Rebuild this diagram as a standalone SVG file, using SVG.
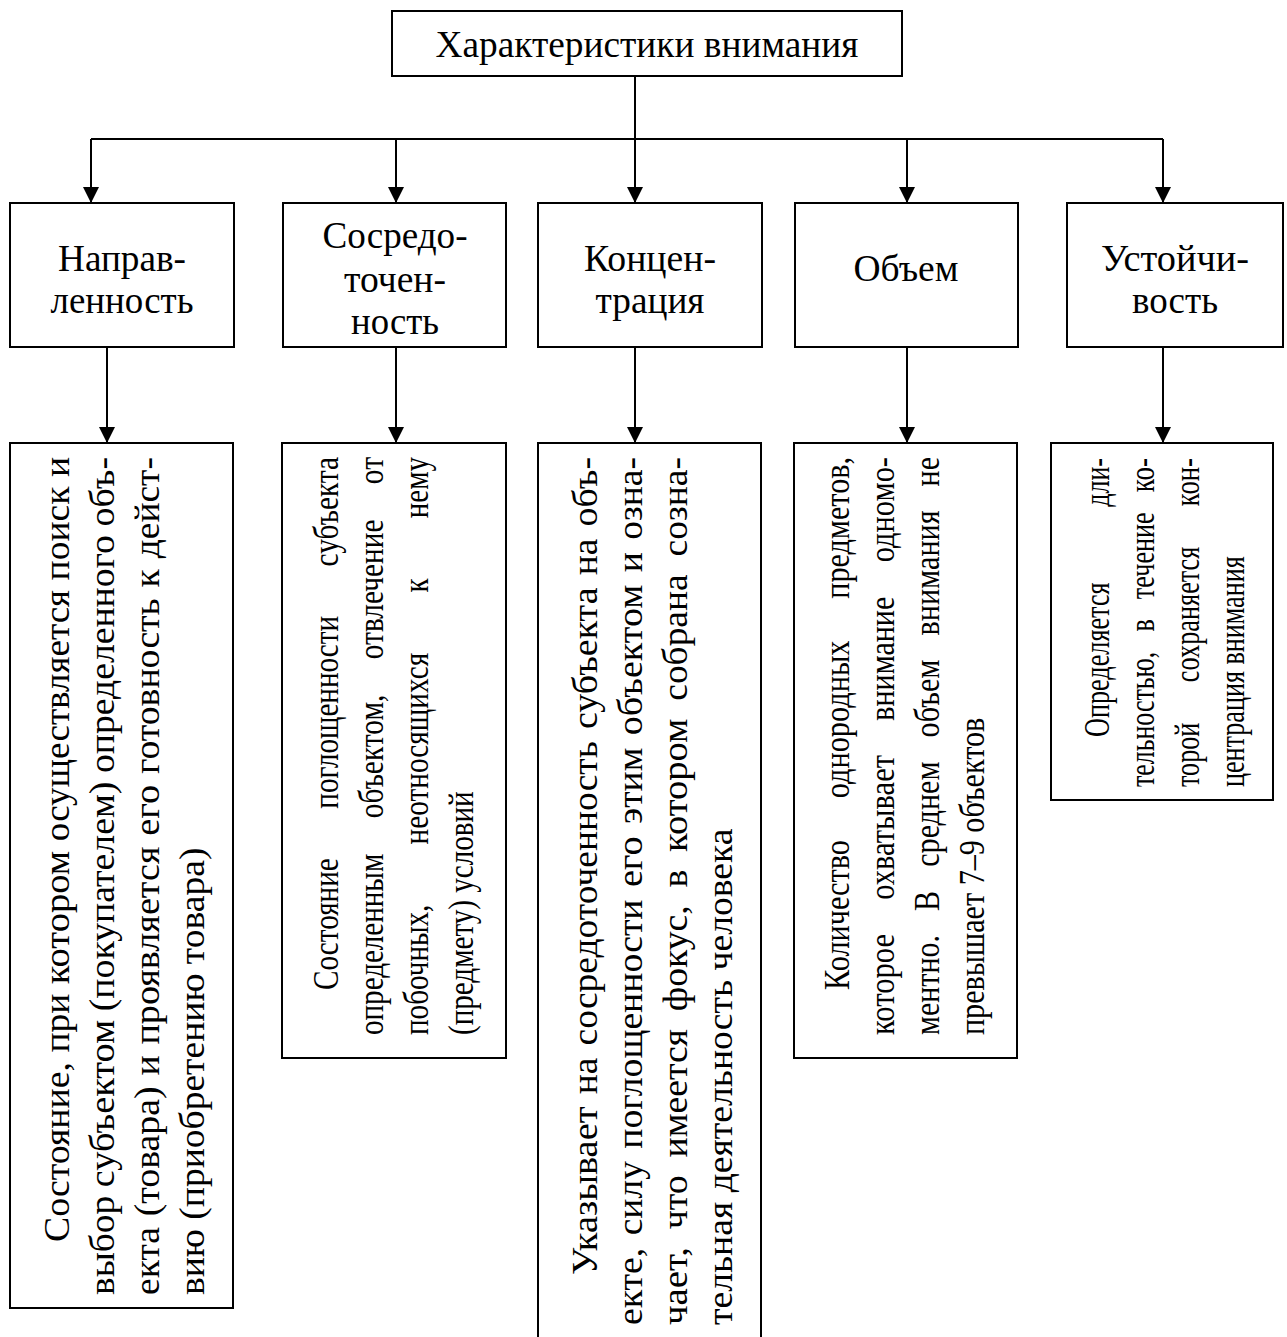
<svg xmlns="http://www.w3.org/2000/svg" width="1287" height="1337" viewBox="0 0 1287 1337">
<style>
.box{fill:#fff;stroke:#000;stroke-width:2}
.ln{fill:none;stroke:#000;stroke-width:2}
text{font-family:"Liberation Serif","DejaVu Serif",serif;fill:#000}
.h{font-size:37px;text-anchor:middle}
.r{font-size:36px}
</style>
<defs>
<marker id="ah" markerUnits="userSpaceOnUse" markerWidth="16" markerHeight="16" refX="16" refY="8" orient="auto">
<path d="M0,0 L16,8 L0,16 z" fill="#000"/>
</marker>
</defs>
<rect width="1287" height="1337" fill="#fff"/>
<g id="connectors">
<path class="ln" d="M91,139 H1163"/>
<path class="ln" d="M635,76 V203" marker-end="url(#ah)"/>
<path class="ln" d="M91,139 V203" marker-end="url(#ah)"/>
<path class="ln" d="M396,139 V203" marker-end="url(#ah)"/>
<path class="ln" d="M907,139 V203" marker-end="url(#ah)"/>
<path class="ln" d="M1163,139 V203" marker-end="url(#ah)"/>
<path class="ln" d="M107,347 V443" marker-end="url(#ah)"/>
<path class="ln" d="M396,347 V443" marker-end="url(#ah)"/>
<path class="ln" d="M635,347 V443" marker-end="url(#ah)"/>
<path class="ln" d="M907,347 V443" marker-end="url(#ah)"/>
<path class="ln" d="M1163,347 V443" marker-end="url(#ah)"/>
</g>
<g id="root">
<rect class="box" x="392" y="11" width="510" height="65"/>
<text class="h" x="647" y="57" textLength="423" lengthAdjust="spacingAndGlyphs">Характеристики внимания</text>
</g>
<g id="n1">
<rect class="box" x="10" y="203" width="224" height="144"/>
<text class="h" x="122" y="271" textLength="128" lengthAdjust="spacingAndGlyphs">Направ-</text>
<text class="h" x="122" y="313" textLength="143" lengthAdjust="spacingAndGlyphs">ленность</text>
</g>
<g id="n2">
<rect class="box" x="283" y="203" width="223" height="144"/>
<text class="h" x="395" y="248" textLength="145" lengthAdjust="spacingAndGlyphs">Сосредо-</text>
<text class="h" x="395" y="292" textLength="102" lengthAdjust="spacingAndGlyphs">точен-</text>
<text class="h" x="395" y="334" textLength="88" lengthAdjust="spacingAndGlyphs">ность</text>
</g>
<g id="n3">
<rect class="box" x="538" y="203" width="224" height="144"/>
<text class="h" x="650" y="271" textLength="132" lengthAdjust="spacingAndGlyphs">Концен-</text>
<text class="h" x="650" y="313" textLength="109" lengthAdjust="spacingAndGlyphs">трация</text>
</g>
<g id="n4">
<rect class="box" x="795" y="203" width="223" height="144"/>
<text class="h" x="906" y="281" textLength="105" lengthAdjust="spacingAndGlyphs">Объем</text>
</g>
<g id="n5">
<rect class="box" x="1067" y="203" width="216" height="144"/>
<text class="h" x="1175" y="271" textLength="148" lengthAdjust="spacingAndGlyphs">Устойчи-</text>
<text class="h" x="1175" y="313" textLength="86" lengthAdjust="spacingAndGlyphs">вость</text>
</g>
<g id="d1">
<rect class="box" x="10" y="443" width="223" height="865"/>
<text class="r" transform="translate(69,1242) rotate(-90)" textLength="179.9" lengthAdjust="spacingAndGlyphs">Состояние,</text>
<text class="r" transform="translate(69,1052.6) rotate(-90)" textLength="58.9" lengthAdjust="spacingAndGlyphs">при</text>
<text class="r" transform="translate(69,984.2) rotate(-90)" textLength="133.4" lengthAdjust="spacingAndGlyphs">котором</text>
<text class="r" transform="translate(69,841.3) rotate(-90)" textLength="251.4" lengthAdjust="spacingAndGlyphs">осуществляется</text>
<text class="r" transform="translate(69,580.4) rotate(-90)" textLength="93.8" lengthAdjust="spacingAndGlyphs">поиск</text>
<text class="r" transform="translate(69,477.1) rotate(-90)" textLength="20.1" lengthAdjust="spacingAndGlyphs">и</text>
<text class="r" transform="translate(114,1295) rotate(-90)" textLength="99.2" lengthAdjust="spacingAndGlyphs">выбор</text>
<text class="r" transform="translate(114,1187.2) rotate(-90)" textLength="167.3" lengthAdjust="spacingAndGlyphs">субъектом</text>
<text class="r" transform="translate(114,1011.2) rotate(-90)" textLength="229.6" lengthAdjust="spacingAndGlyphs">(покупателем)</text>
<text class="r" transform="translate(114,773) rotate(-90)" textLength="237.9" lengthAdjust="spacingAndGlyphs">определенного</text>
<text class="r" transform="translate(114,526.4) rotate(-90)" textLength="69.4" lengthAdjust="spacingAndGlyphs">объ-</text>
<text class="r" transform="translate(159,1295) rotate(-90)" textLength="67.9" lengthAdjust="spacingAndGlyphs">екта</text>
<text class="r" transform="translate(159,1216.3) rotate(-90)" textLength="129.9" lengthAdjust="spacingAndGlyphs">(товара)</text>
<text class="r" transform="translate(159,1075.5) rotate(-90)" textLength="20.1" lengthAdjust="spacingAndGlyphs">и</text>
<text class="r" transform="translate(159,1044.6) rotate(-90)" textLength="198.1" lengthAdjust="spacingAndGlyphs">проявляется</text>
<text class="r" transform="translate(159,835.7) rotate(-90)" textLength="50.8" lengthAdjust="spacingAndGlyphs">его</text>
<text class="r" transform="translate(159,774.1) rotate(-90)" textLength="175.9" lengthAdjust="spacingAndGlyphs">готовность</text>
<text class="r" transform="translate(159,587.4) rotate(-90)" textLength="18.2" lengthAdjust="spacingAndGlyphs">к</text>
<text class="r" transform="translate(159,558.3) rotate(-90)" textLength="101.3" lengthAdjust="spacingAndGlyphs">дейст-</text>
<text class="r" transform="translate(204,1295) rotate(-90)" textLength="447.4" lengthAdjust="spacingAndGlyphs">вию (приобретению товара)</text>
</g>
<g id="d2">
<rect class="box" x="282" y="443" width="224" height="615"/>
<text class="r" transform="translate(338,990) rotate(-90)" textLength="131.8" lengthAdjust="spacingAndGlyphs">Состояние</text>
<text class="r" transform="translate(338,808.7) rotate(-90)" textLength="192.7" lengthAdjust="spacingAndGlyphs">поглощенности</text>
<text class="r" transform="translate(338,566.4) rotate(-90)" textLength="109.4" lengthAdjust="spacingAndGlyphs">субъекта</text>
<text class="r" transform="translate(383,1035) rotate(-90)" textLength="181.3" lengthAdjust="spacingAndGlyphs">определенным</text>
<text class="r" transform="translate(383,818.3) rotate(-90)" textLength="123.7" lengthAdjust="spacingAndGlyphs">объектом,</text>
<text class="r" transform="translate(383,659.2) rotate(-90)" textLength="139.6" lengthAdjust="spacingAndGlyphs">отвлечение</text>
<text class="r" transform="translate(383,484.2) rotate(-90)" textLength="27.2" lengthAdjust="spacingAndGlyphs">от</text>
<text class="r" transform="translate(428,1035) rotate(-90)" textLength="130.4" lengthAdjust="spacingAndGlyphs">побочных,</text>
<text class="r" transform="translate(428,844.4) rotate(-90)" textLength="191.7" lengthAdjust="spacingAndGlyphs">неотносящихся</text>
<text class="r" transform="translate(428,592.5) rotate(-90)" textLength="14.1" lengthAdjust="spacingAndGlyphs">к</text>
<text class="r" transform="translate(428,518.2) rotate(-90)" textLength="61.2" lengthAdjust="spacingAndGlyphs">нему</text>
<text class="r" transform="translate(473,1035) rotate(-90)" textLength="243.7" lengthAdjust="spacingAndGlyphs">(предмету) условий</text>
</g>
<g id="d3">
<rect class="box" x="538" y="443" width="223" height="910"/>
<text class="r" transform="translate(597,1275) rotate(-90)" textLength="168.5" lengthAdjust="spacingAndGlyphs">Указывает</text>
<text class="r" transform="translate(597,1094.3) rotate(-90)" textLength="36.7" lengthAdjust="spacingAndGlyphs">на</text>
<text class="r" transform="translate(597,1045.4) rotate(-90)" textLength="304.2" lengthAdjust="spacingAndGlyphs">сосредоточенность</text>
<text class="r" transform="translate(597,729) rotate(-90)" textLength="141.5" lengthAdjust="spacingAndGlyphs">субъекта</text>
<text class="r" transform="translate(597,575.3) rotate(-90)" textLength="36.7" lengthAdjust="spacingAndGlyphs">на</text>
<text class="r" transform="translate(597,526.4) rotate(-90)" textLength="69.4" lengthAdjust="spacingAndGlyphs">объ-</text>
<text class="r" transform="translate(642,1325) rotate(-90)" textLength="77.3" lengthAdjust="spacingAndGlyphs">екте,</text>
<text class="r" transform="translate(642,1235.3) rotate(-90)" textLength="74.2" lengthAdjust="spacingAndGlyphs">силу</text>
<text class="r" transform="translate(642,1148.7) rotate(-90)" textLength="249.2" lengthAdjust="spacingAndGlyphs">поглощенности</text>
<text class="r" transform="translate(642,887.1) rotate(-90)" textLength="50.8" lengthAdjust="spacingAndGlyphs">его</text>
<text class="r" transform="translate(642,823.9) rotate(-90)" textLength="76.3" lengthAdjust="spacingAndGlyphs">этим</text>
<text class="r" transform="translate(642,735.2) rotate(-90)" textLength="150.6" lengthAdjust="spacingAndGlyphs">объектом</text>
<text class="r" transform="translate(642,572.2) rotate(-90)" textLength="20.1" lengthAdjust="spacingAndGlyphs">и</text>
<text class="r" transform="translate(642,539.8) rotate(-90)" textLength="82.8" lengthAdjust="spacingAndGlyphs">озна-</text>
<text class="r" transform="translate(687,1325) rotate(-90)" textLength="77.9" lengthAdjust="spacingAndGlyphs">чает,</text>
<text class="r" transform="translate(687,1229.3) rotate(-90)" textLength="54" lengthAdjust="spacingAndGlyphs">что</text>
<text class="r" transform="translate(687,1157.4) rotate(-90)" textLength="128.3" lengthAdjust="spacingAndGlyphs">имеется</text>
<text class="r" transform="translate(687,1011.3) rotate(-90)" textLength="106.1" lengthAdjust="spacingAndGlyphs">фокус,</text>
<text class="r" transform="translate(687,887.4) rotate(-90)" textLength="17.7" lengthAdjust="spacingAndGlyphs">в</text>
<text class="r" transform="translate(687,851.9) rotate(-90)" textLength="133.4" lengthAdjust="spacingAndGlyphs">котором</text>
<text class="r" transform="translate(687,700.7) rotate(-90)" textLength="126.3" lengthAdjust="spacingAndGlyphs">собрана</text>
<text class="r" transform="translate(687,556.4) rotate(-90)" textLength="99.4" lengthAdjust="spacingAndGlyphs">созна-</text>
<text class="r" transform="translate(732,1325) rotate(-90)" textLength="496.4" lengthAdjust="spacingAndGlyphs">тельная деятельность человека</text>
</g>
<g id="d4">
<rect class="box" x="794" y="443" width="223" height="615"/>
<text class="r" transform="translate(849,990) rotate(-90)" textLength="150" lengthAdjust="spacingAndGlyphs">Количество</text>
<text class="r" transform="translate(849,798.3) rotate(-90)" textLength="157.8" lengthAdjust="spacingAndGlyphs">однородных</text>
<text class="r" transform="translate(849,598.7) rotate(-90)" textLength="141.7" lengthAdjust="spacingAndGlyphs">предметов,</text>
<text class="r" transform="translate(894,1035) rotate(-90)" textLength="101" lengthAdjust="spacingAndGlyphs">которое</text>
<text class="r" transform="translate(894,899.7) rotate(-90)" textLength="144.7" lengthAdjust="spacingAndGlyphs">охватывает</text>
<text class="r" transform="translate(894,720.7) rotate(-90)" textLength="124" lengthAdjust="spacingAndGlyphs">внимание</text>
<text class="r" transform="translate(894,562.3) rotate(-90)" textLength="105.3" lengthAdjust="spacingAndGlyphs">одномо-</text>
<text class="r" transform="translate(939,1035) rotate(-90)" textLength="100" lengthAdjust="spacingAndGlyphs">ментно.</text>
<text class="r" transform="translate(939,910.9) rotate(-90)" textLength="20" lengthAdjust="spacingAndGlyphs">В</text>
<text class="r" transform="translate(939,866.8) rotate(-90)" textLength="105.3" lengthAdjust="spacingAndGlyphs">среднем</text>
<text class="r" transform="translate(939,737.4) rotate(-90)" textLength="77.8" lengthAdjust="spacingAndGlyphs">объем</text>
<text class="r" transform="translate(939,635.5) rotate(-90)" textLength="125.2" lengthAdjust="spacingAndGlyphs">внимания</text>
<text class="r" transform="translate(939,486.4) rotate(-90)" textLength="29.4" lengthAdjust="spacingAndGlyphs">не</text>
<text class="r" transform="translate(984,1035) rotate(-90)" textLength="317.2" lengthAdjust="spacingAndGlyphs">превышает 7–9 объектов</text>
</g>
<g id="d5">
<rect class="box" x="1051" y="443" width="222" height="357"/>
<text class="r" transform="translate(1109,737) rotate(-90)" textLength="154.6" lengthAdjust="spacingAndGlyphs">Определяется</text>
<text class="r" transform="translate(1109,506.8) rotate(-90)" textLength="48.8" lengthAdjust="spacingAndGlyphs">дли-</text>
<text class="r" transform="translate(1154,787) rotate(-90)" textLength="135.3" lengthAdjust="spacingAndGlyphs">тельностью,</text>
<text class="r" transform="translate(1154,631.6) rotate(-90)" textLength="12.3" lengthAdjust="spacingAndGlyphs">в</text>
<text class="r" transform="translate(1154,599.2) rotate(-90)" textLength="86.9" lengthAdjust="spacingAndGlyphs">течение</text>
<text class="r" transform="translate(1154,492.3) rotate(-90)" textLength="34.3" lengthAdjust="spacingAndGlyphs">ко-</text>
<text class="r" transform="translate(1199,787) rotate(-90)" textLength="64.3" lengthAdjust="spacingAndGlyphs">торой</text>
<text class="r" transform="translate(1199,682.2) rotate(-90)" textLength="135.6" lengthAdjust="spacingAndGlyphs">сохраняется</text>
<text class="r" transform="translate(1199,506.2) rotate(-90)" textLength="48.2" lengthAdjust="spacingAndGlyphs">кон-</text>
<text class="r" transform="translate(1244,787) rotate(-90)" textLength="230.7" lengthAdjust="spacingAndGlyphs">центрация внимания</text>
</g>
</svg>
